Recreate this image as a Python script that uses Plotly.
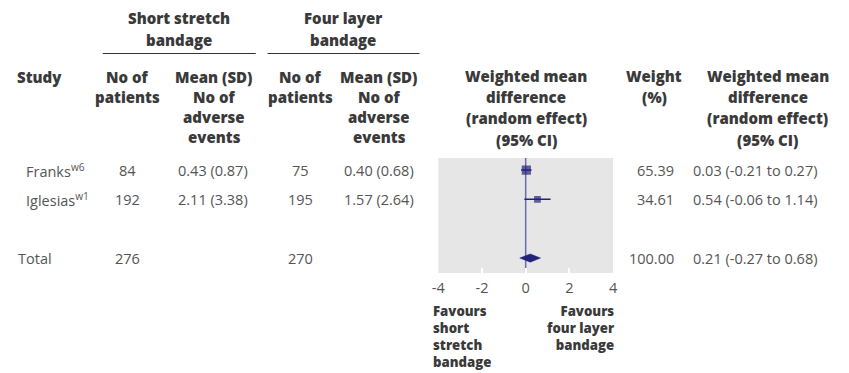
import plotly.graph_objects as go

# ---------------- data ----------------
studies = ["Franks<sup>w6</sup>", "Iglesias<sup>w1</sup>"]
row_idx = [0, 1]
total_row = 3
n_short = [84, 192]
mean_short = ["0.43 (0.87)", "2.11 (3.38)"]
n_four = [75, 195]
mean_four = ["0.40 (0.68)", "1.57 (2.64)"]
wmd = [0.03, 0.54]
ci_lo = [-0.21, -0.06]
ci_hi = [0.27, 1.14]
weights = [65.39, 34.61]
total_n_short = 276
total_n_four = 270
total_wmd = 0.21
total_lo = -0.27
total_hi = 0.68
total_weight = 100.00
x_ticks = [-4, -2, 0, 2, 4]
null_effect = 0

# ---------------- style ----------------
W, H = 849, 373
HEAD_FONT = dict(family="Open Sans", size=15, color="#3a3a3a", weight=800)
FAV_FONT = dict(family="Open Sans", size=13.2, color="#3a3a3a", weight=800)
BODY_FONT = dict(family="Open Sans", size=14.5, color="#555555")
NAVY = "#22227a"


def px(p):
    return p / W


def py(p):
    return 1 - p / H


fig = go.Figure()

# CI lines
for i in range(len(studies)):
    fig.add_trace(go.Scatter(x=[ci_lo[i], ci_hi[i]], y=[row_idx[i], row_idx[i]],
                             mode="lines", line=dict(color=NAVY, width=1.5),
                             hoverinfo="skip", showlegend=False))
# squares (size by weight)
fig.add_trace(go.Scatter(x=wmd, y=row_idx, mode="markers",
                         marker=dict(symbol="square", color=NAVY,
                                     size=[4 + w * 0.08 for w in weights],
                                     line=dict(width=0)),
                         showlegend=False))
# diamond
dh = 0.14
fig.add_trace(go.Scatter(x=[total_lo, total_wmd, total_hi, total_wmd, total_lo],
                         y=[total_row, total_row - dh, total_row, total_row + dh, total_row],
                         mode="lines", fill="toself", fillcolor=NAVY,
                         line=dict(color=NAVY, width=0.5), showlegend=False))

fig.update_layout(
    width=W, height=H, margin=dict(l=0, r=0, t=0, b=0),
    paper_bgcolor="white", plot_bgcolor="#e6e6e6",
    xaxis=dict(domain=[px(438), px(615)], range=[-4, 4], tickvals=x_ticks,
               ticktext=[str(t) for t in x_ticks], showgrid=False,
               zeroline=False,
               ticks="inside", tickcolor="white", ticklen=5, tickwidth=2,
               ticklabelstandoff=4, layer="below traces",
               tickfont=BODY_FONT, showline=False, fixedrange=True),
    yaxis=dict(domain=[py(273), py(158)], range=[3.51, -0.41], showgrid=False,
               zeroline=False, showticklabels=False, ticks="", fixedrange=True),
)

# line of no effect, below the markers
fig.add_shape(type="line", xref="x", yref="y domain", x0=null_effect, x1=null_effect,
              y0=0, y1=1, layer="below", line=dict(color="#6b6bb0", width=1.5))

ann = []


def text(x, y, s, font, xanchor="center", yref="paper", yanchor="middle", align="center"):
    ann.append(dict(x=x, y=y, xref="paper", yref=yref, text=s, showarrow=False,
                    font=font, xanchor=xanchor, yanchor=yanchor, align=align))


def head_lines(xc, ys, lines, xanchor="center"):
    for yy, s in zip(ys, lines):
        text(px(xc), py(yy), s, HEAD_FONT, xanchor=xanchor)


# group headers
head_lines(175, [18, 40], ["Short stretch", "bandage"])
head_lines(341, [18, 40], ["Four layer", "bandage"])
# column headers
head_lines(9, [77], ["Study"], xanchor="left")
head_lines(123, [77, 97], ["No of", "patients"])
head_lines(211, [77, 97, 117, 137], ["Mean (SD)", "No of", "adverse", "events"])
head_lines(298, [77, 97], ["No of", "patients"])
head_lines(378, [77, 97, 117, 137], ["Mean (SD)", "No of", "adverse", "events"])
head_lines(527, [76, 97, 118, 140], ["Weighted mean", "difference", "(random effect)", "(95% CI)"])
head_lines(657, [76, 97], ["Weight", "(%)"])
head_lines(772, [76, 97, 118, 140], ["Weighted mean", "difference", "(random effect)", "(95% CI)"])

# rows
for i in range(len(studies)):
    y = row_idx[i]
    text(px(18), y, studies[i], BODY_FONT, xanchor="left", yref="y")
    text(px(123), y, str(n_short[i]), BODY_FONT, yref="y")
    text(px(210), y, mean_short[i], BODY_FONT, yref="y")
    text(px(298), y, str(n_four[i]), BODY_FONT, yref="y")
    text(px(378), y, mean_four[i], BODY_FONT, yref="y")
    text(px(679), y, f"{weights[i]:.2f}", BODY_FONT, xanchor="right", yref="y")
    text(px(694), y, f"{wmd[i]:.2f} ({ci_lo[i]:.2f} to {ci_hi[i]:.2f})", BODY_FONT,
         xanchor="left", yref="y")

text(px(10), total_row, "Total", BODY_FONT, xanchor="left", yref="y")
text(px(123), total_row, str(total_n_short), BODY_FONT, yref="y")
text(px(298), total_row, str(total_n_four), BODY_FONT, yref="y")
text(px(679), total_row, f"{total_weight:.2f}", BODY_FONT, xanchor="right", yref="y")
text(px(694), total_row, f"{total_wmd:.2f} ({total_lo:.2f} to {total_hi:.2f})", BODY_FONT,
     xanchor="left", yref="y")

# favours labels
text(px(431), py(300), "Favours<br>short<br>stretch<br>bandage", FAV_FONT,
     xanchor="left", yanchor="top", align="left")
text(px(619), py(300), "Favours<br>four layer<br>bandage", FAV_FONT,
     xanchor="right", yanchor="top", align="right")

fig.update_layout(annotations=ann)

# group underlines
fig.add_shape(type="line", xref="paper", yref="paper", x0=px(98), x1=px(253),
              y0=py(53.5), y1=py(53.5), line=dict(color="#333333", width=1))
fig.add_shape(type="line", xref="paper", yref="paper", x0=px(265), x1=px(419),
              y0=py(53.5), y1=py(53.5), line=dict(color="#333333", width=1))

fig.write_html("out.html", config={"displayModeBar": False},
               post_script="document.body.style.margin='0';")
